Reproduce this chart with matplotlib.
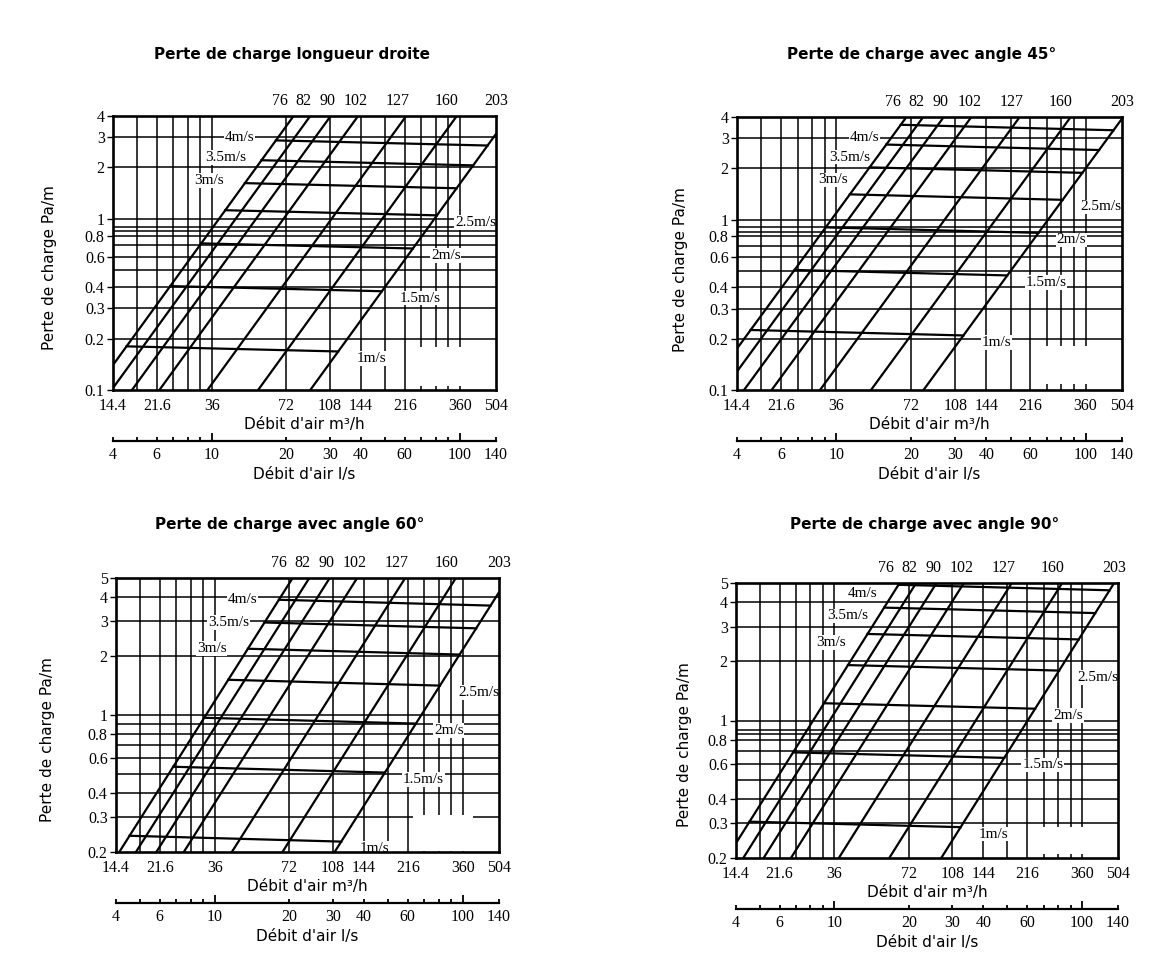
import numpy as np
import matplotlib
matplotlib.use("Agg")
import matplotlib.pyplot as plt
from matplotlib.patches import Rectangle
from matplotlib.ticker import NullLocator

# ---------------- data ----------------
titles = ["Perte de charge longueur droite", "Perte de charge avec angle 45°",
          "Perte de charge avec angle 60°", "Perte de charge avec angle 90°"]
diameters_mm = [76, 82, 90, 102, 127, 160, 203]
velocities_ms = [1, 1.5, 2, 2.5, 3, 3.5, 4]
velocity_labels = ["1m/s", "1.5m/s", "2m/s", "2.5m/s", "3m/s", "3.5m/s", "4m/s"]
# pressure loss (Pa/m) at 1 m/s for the smallest and the largest duct, per panel
loss_1ms_small = [0.180, 0.225, 0.242, 0.306]
loss_1ms_large = [0.168, 0.209, 0.226, 0.287]
y_min = [0.1, 0.1, 0.2, 0.2]
y_max = [4, 4, 5, 5]
y_ticks_low = [0.1, 0.2, 0.3, 0.4, 0.6, 0.8, 1, 2, 3, 4]
y_ticks_high = [0.2, 0.3, 0.4, 0.6, 0.8, 1, 2, 3, 4, 5]
y_grid_a = [0.2, 0.3, 0.4, 0.5, 0.6, 0.7, 0.8, 0.85, 0.9, 1, 2, 3]
y_grid_b = [0.3, 0.4, 0.5, 0.6, 0.7, 0.8, 0.9, 1, 2, 3, 4]
y_grid_c = [0.3, 0.4, 0.5, 0.6, 0.7, 0.8, 0.85, 0.9, 1, 2, 3, 4]
flow_m3h_min, flow_m3h_max = 14.4, 504
flow_m3h_ticks = [14.4, 21.6, 36, 72, 108, 144, 216, 360, 504]
flow_ls_min, flow_ls_max = 4, 140
flow_ls_ticks = [4, 5, 6, 7, 8, 9, 10, 20, 30, 40, 50, 60, 70, 80, 90, 100, 140]
flow_ls_labels = ["4", "", "6", "", "", "", "10", "20", "30", "40", "", "60", "", "", "", "100", "140"]
flow_ls_grid = [5, 6, 7, 8, 9, 10, 20, 30, 40, 50, 60, 70, 80, 90, 100]

# ---------------- layout ----------------
W, H = 1155, 969
fig = plt.figure(figsize=(W / 100, H / 100), dpi=100)
fig.patch.set_facecolor("white")

panel_px = [(113, 116, 496, 390), (737, 117, 1122, 390),
            (116, 578, 499, 852), (736, 583, 1118, 858)]
ls_axis_px = [441, 441, 903, 909]
title_px = [(292, 54), (922, 54), (290, 525), (925, 525)]
ylabel_px = [(50, 268), (681, 270), (48, 740), (684, 745)]
blank_frac = [(0.775, 0.016, 0.992, 0.157), (0.775, 0.022, 0.992, 0.161),
              (0.775, 0.004, 0.932, 0.135), (0.775, 0.013, 0.992, 0.113)]
left_label_dy = [2, -9, 0, -6]                 # points
diam_label_dx = [-10, -5, -2, -1.5, -6, -7, 0]  # points, shift of top labels
y_ticks_all = [y_ticks_low, y_ticks_low, y_ticks_high, y_ticks_high]
y_grid_all = [y_grid_a, y_grid_a, y_grid_b, y_grid_c]

SERIF = "Liberation Serif"
SANS = "DejaVu Sans"


def rect(l, t, r, b):
    return [l / W, 1 - b / H, (r - l) / W, (b - t) / H]


def flow_at(v, d):
    return v * np.pi * (d / 1000.0) ** 2 / 4 * 3600


def unit_loss(d, i):
    qa = flow_at(1, diameters_mm[0])
    qb = flow_at(1, diameters_mm[-1])
    t = np.log(flow_at(1, d) / qa) / np.log(qb / qa)
    return loss_1ms_small[i] * (loss_1ms_large[i] / loss_1ms_small[i]) ** t


for i in range(4):
    l, t, r, b = panel_px[i]
    ax = fig.add_axes(rect(l, t, r, b))
    ax.set_xscale("log")
    ax.set_yscale("log")
    ax.set_xlim(flow_m3h_min, flow_m3h_max)
    ax.set_ylim(y_min[i], y_max[i])

    # grid
    ax.vlines(np.array(flow_ls_grid) * 3.6, y_min[i], y_max[i], colors="black", lw=1.1, zorder=1)
    ax.hlines(y_grid_all[i], flow_m3h_min, flow_m3h_max, colors="black", lw=1.1, zorder=1)
    bx0, by0, bx1, by1 = blank_frac[i]
    ax.add_patch(Rectangle((bx0, by0), bx1 - bx0, by1 - by0, transform=ax.transAxes,
                           facecolor="white", edgecolor="none", zorder=2))

    # diameter lines
    q = np.geomspace(flow_m3h_min, flow_m3h_max, 300)
    for j, d in enumerate(diameters_mm):
        k = unit_loss(d, i)
        q1 = flow_at(1, d)
        ax.plot(q, k * (q / q1) ** 2, color="black", lw=1.6, zorder=3)
        q_top = q1 * np.sqrt(y_max[i] / k)
        if q_top > flow_m3h_max:
            xl, dx = flow_m3h_max, 0
        else:
            xl, dx = q_top, diam_label_dx[j]
        ax.annotate(str(d), xy=(xl, y_max[i]), xytext=(dx, 11), textcoords="offset points",
                    ha="center", va="center", fontsize=11.5, family=SERIF,
                    annotation_clip=False)

    # velocity lines
    for v, lab in zip(velocities_ms, velocity_labels):
        d0, d1 = diameters_mm[0], diameters_mm[-1]
        xs = [flow_at(v, d0), flow_at(v, d1)]
        ys = [unit_loss(d0, i) * v ** 2, unit_loss(d1, i) * v ** 2]
        ax.plot(xs, ys, color="black", lw=1.6, zorder=3)
        if v >= 3:
            ax.annotate(lab, xy=(xs[0], ys[0]), xytext=(-26, left_label_dy[i]),
                        textcoords="offset points", ha="center", va="center",
                        fontsize=11, family=SERIF, zorder=5,
                        bbox=dict(facecolor="white", edgecolor="none", pad=0.5))
        else:
            ax.annotate(lab, xy=(xs[1], ys[1]), xytext=(13, -5), textcoords="offset points",
                        ha="left", va="center", fontsize=11, family=SERIF, zorder=5,
                        bbox=dict(facecolor="white", edgecolor="none", pad=0.5))

    # axes styling
    for s in ax.spines.values():
        s.set_linewidth(1.9)
        s.set_zorder(6)
    ax.set_xticks(flow_m3h_ticks)
    ax.set_xticklabels([f"{v:g}" for v in flow_m3h_ticks], family=SERIF, fontsize=11.5)
    ax.set_yticks(y_ticks_all[i])
    ax.set_yticklabels([f"{v:g}" for v in y_ticks_all[i]], family=SERIF, fontsize=11.5)
    ax.xaxis.set_minor_locator(NullLocator())
    ax.yaxis.set_minor_locator(NullLocator())
    ax.tick_params(axis="x", length=0, pad=6)
    ax.tick_params(axis="y", length=4, width=1, pad=2)
    ax.set_xlabel("Débit d'air m³/h", family=SANS, fontsize=11, labelpad=2)

    # l/s secondary axis
    ax2 = fig.add_axes(rect(l, ls_axis_px[i] - 1, r, ls_axis_px[i]))
    ax2.set_xscale("log")
    ax2.set_xlim(flow_ls_min, flow_ls_max)
    ax2.set_yticks([])
    for name in ["top", "left", "right"]:
        ax2.spines[name].set_visible(False)
    ax2.spines["bottom"].set_linewidth(1.6)
    ax2.patch.set_alpha(0)
    ax2.set_xticks(flow_ls_ticks)
    ax2.set_xticklabels(flow_ls_labels, family=SERIF, fontsize=11.5)
    ax2.xaxis.set_minor_locator(NullLocator())
    ax2.tick_params(axis="x", direction="in", length=3, width=1.3, pad=4)
    for tk, val in zip(ax2.xaxis.get_major_ticks(), flow_ls_ticks):
        if val in (10, 100):
            tk.tick1line.set_markersize(6)
    ax2.set_xlabel("Débit d'air l/s", family=SANS, fontsize=11, labelpad=3)

    # titles and y label
    tx, ty = title_px[i]
    fig.text(tx / W, 1 - ty / H, titles[i], ha="center", va="center",
             family=SANS, fontsize=11, fontweight="bold")
    lx, ly = ylabel_px[i]
    fig.text(lx / W, 1 - ly / H, "Perte de charge Pa/m", ha="center", va="center",
             rotation=90, family=SANS, fontsize=11)

fig.savefig("out.png", dpi=100, facecolor="white")
